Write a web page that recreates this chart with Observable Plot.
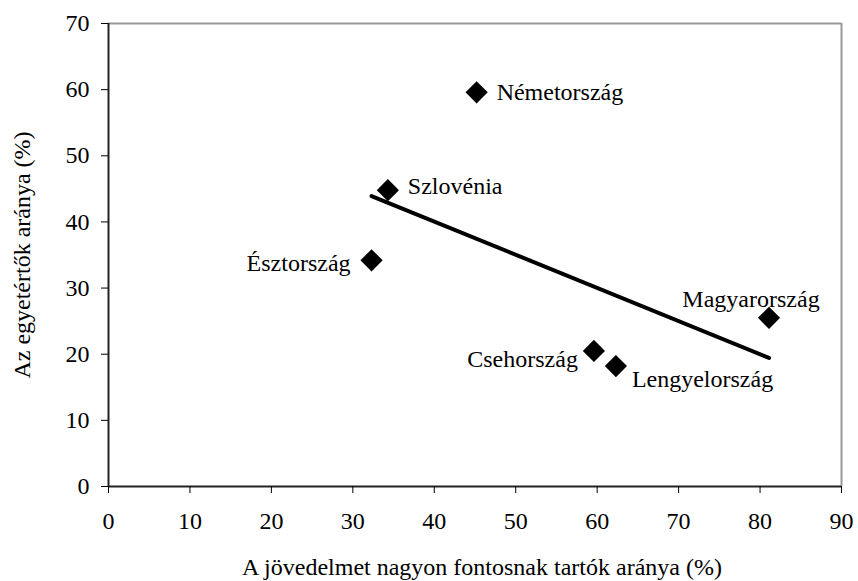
<!DOCTYPE html>
<html>
<head>
<meta charset="utf-8">
<script src="https://cdn.jsdelivr.net/npm/d3@7"></script>
<script src="https://cdn.jsdelivr.net/npm/@observablehq/plot@0.6"></script>
<style>
  html, body { margin: 0; padding: 0; background: #fff; }
  #chart svg, #chart svg text { font-family: "Liberation Serif", "Times New Roman", serif !important; }
</style>
</head>
<body>
<div id="chart"></div>
<script>
const countries = ["Németország", "Szlovénia", "Észtország", "Csehország", "Lengyelország", "Magyarország"];
const incomeImportant = [45.2, 34.3, 32.3, 59.6, 62.3, 81.1];
const agreeShare = [59.6, 44.8, 34.2, 20.5, 18.2, 25.5];
const xTicks = [0, 10, 20, 30, 40, 50, 60, 70, 80, 90];
const yTicks = [0, 10, 20, 30, 40, 50, 60, 70];
const xLabel = "A jövedelmet nagyon fontosnak tartók aránya (%)";
const yLabel = "Az egyetértők aránya (%)";

const data = countries.map((c, i) => ({country: c, x: incomeImportant[i], y: agreeShare[i]}));

// label placement (styling, kept out of data arrays)
const place = {
  "Németország":   {textAnchor: "start",  dx: 20,  dy: 0},
  "Szlovénia":     {textAnchor: "start",  dx: 20,  dy: -4},
  "Észtország":    {textAnchor: "end",    dx: -21, dy: 3},
  "Csehország":    {textAnchor: "end",    dx: -16, dy: 8},
  "Lengyelország": {textAnchor: "start",  dx: 16,  dy: 13},
  "Magyarország":  {textAnchor: "middle", dx: -18, dy: -19}
};

const font = "'Liberation Serif', 'Times New Roman', serif";
const fs = 24;

const labelMarks = data.map(d => Plot.text([d], {
  x: "x", y: "y", text: "country",
  textAnchor: place[d.country].textAnchor,
  dx: place[d.country].dx, dy: place[d.country].dy,
  fontSize: fs, fill: "#000"
}));

const chart = Plot.plot({
  width: 858,
  height: 581,
  marginLeft: 108,
  marginRight: 17,
  marginTop: 23,
  marginBottom: 95,
  style: {fontFamily: font, background: "#fff", color: "#000"},
  x: {domain: [0, 90]},
  y: {domain: [0, 70]},
  marks: [
    Plot.ruleY([70], {stroke: "#999", strokeWidth: 2}),
    Plot.ruleX([90], {stroke: "#999", strokeWidth: 2}),
    Plot.ruleX([0], {stroke: "#222", strokeWidth: 2}),
    Plot.ruleY([0], {stroke: "#222", strokeWidth: 2}),
    Plot.axisX({ticks: xTicks, tickSize: 7, tickPadding: 18, fontSize: fs, label: null, stroke: "#000"}),
    Plot.axisY({ticks: yTicks, tickSize: 7, tickPadding: 12, fontSize: fs, label: null, stroke: "#000"}),
    Plot.linearRegressionY(data, {x: "x", y: "y", stroke: "#000", strokeWidth: 4, ci: 0}),
    Plot.dot(data, {x: "x", y: "y", symbol: "diamond2", r: 10, fill: "#000", stroke: "none"}),
    ...labelMarks,
    Plot.text([xLabel], {text: d => d, frameAnchor: "bottom", textAnchor: "middle", lineAnchor: "middle", dy: 81, dx: 7, fontSize: fs, fill: "#000"}),
    Plot.text([yLabel], {text: d => d, frameAnchor: "left", textAnchor: "middle", lineAnchor: "middle", rotate: -90, dx: -86, fontSize: fs, fill: "#000"})
  ]
});

document.getElementById("chart").appendChild(chart);
</script>
</body>
</html>
